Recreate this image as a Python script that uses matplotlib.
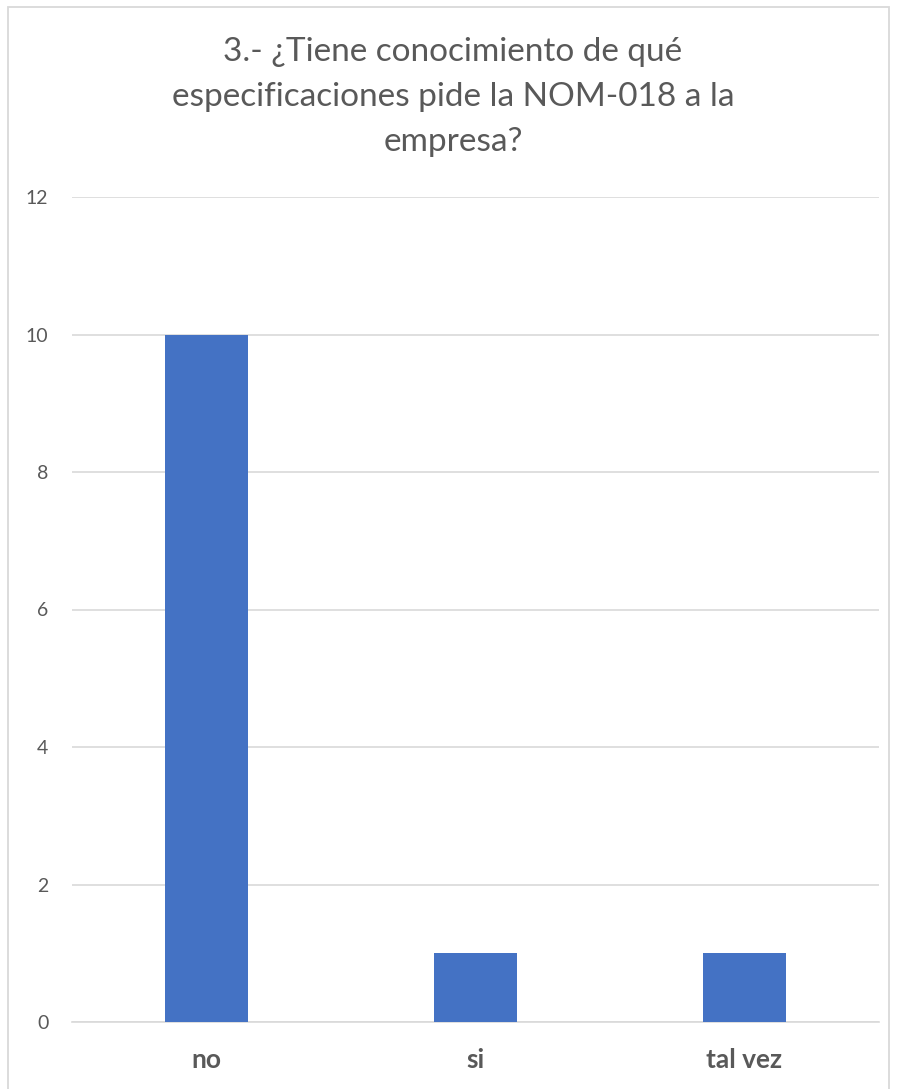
import matplotlib

matplotlib.use("Agg")
import matplotlib.pyplot as plt  # noqa: E402
from matplotlib.patches import Rectangle  # noqa: E402

# survey answers: how many respondents picked each option
categories = ["no", "si", "tal vez"]
counts = [10, 1, 1]
yticks = [0, 2, 4, 6, 8, 10, 12]
title = "3.- ¿Tiene conocimiento de qué\nespecificaciones pide la NOM-018 a la\nempresa?"

W, H = 897, 1089
plt.rcParams["font.family"] = ["Lato", "DejaVu Sans"]

fig = plt.figure(figsize=(W / 100, H / 100), dpi=100)
fig.patch.set_facecolor("white")

# light frame around the whole chart area
fig.add_artist(Rectangle((8 / W, -0.01), 881 / W, (H - 7) / H + 0.01,
                         transform=fig.transFigure, fill=False,
                         edgecolor="#d9d9d9", linewidth=1.3))

ax = fig.add_axes([72 / W, 67 / H, (879 - 72) / W, (1022 - 197) / H])
x = range(len(categories))
ax.bar(x, counts, width=0.31, color="#4472c4", zorder=3)

ax.set_xlim(-0.5, len(categories) - 0.5)
ax.set_ylim(0, 12)
ax.set_yticks(yticks)
ax.set_xticks(list(x))
ax.set_xticklabels(categories, fontsize=19, fontweight="bold", color="#595959")
ax.tick_params(axis="y", labelsize=14, labelcolor="#595959", length=0, pad=17)
ax.tick_params(axis="x", length=0, pad=19)

ax.grid(axis="y", color="#d9d9d9", linewidth=1.2, zorder=0)
for side in ("top", "right", "left"):
    ax.spines[side].set_visible(False)
ax.spines["bottom"].set_color("#d9d9d9")
ax.spines["bottom"].set_linewidth(1.2)

fig.text(453 / W, 1 - 97 / H, title, ha="center", va="center",
         fontsize=24, color="#595959", linespacing=1.62)

fig.savefig("out.png", dpi=100)
